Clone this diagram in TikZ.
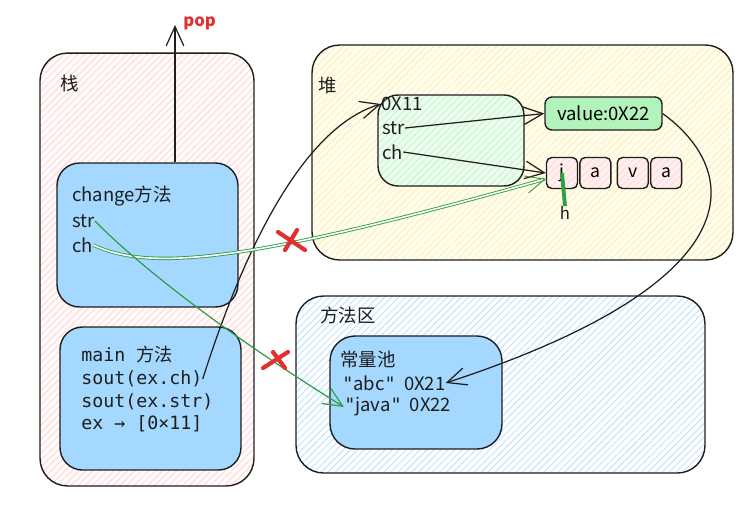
\documentclass[tikz,border=0pt]{standalone}
\usepackage{fontspec}
\setmainfont{Noto Sans CJK SC}
\setmonofont{DejaVu Sans Mono}
\newfontfamily\cjk{Noto Sans CJK SC}
\usetikzlibrary{arrows.meta,positioning,calc,patterns.meta}
\definecolor{ink}{HTML}{1E1E1E}
\definecolor{skyblue}{HTML}{A5D8FF}
\definecolor{mint}{HTML}{B2F2BB}
\definecolor{rose}{HTML}{FFC9C9}
\definecolor{sand}{HTML}{FFEC99}
\definecolor{leaf}{HTML}{2F9E44}
\definecolor{alert}{HTML}{E03131}
\newcommand{\qt}{{\ttfamily"}}

\begin{document}
\begin{tikzpicture}[x=0.02cm, y=-0.02cm, area/.style={draw=ink, line width=0.8pt, rounded corners=#1}, hatch/.style 2 args={preaction={fill=#1}, preaction={pattern={Lines[angle=45,distance=2.8pt,line width=0.45pt]}, pattern color=#2}}, lbl/.style={anchor=west, inner sep=0pt, text=ink, font=\fontsize{10.5}{12}\selectfont}, code/.style={anchor=west, inner sep=0pt, text=ink, font=\ttfamily\fontsize{10.4}{12}\selectfont}, title/.style={anchor=west, inner sep=0pt, text=ink, font=\fontsize{10.5}{12}\selectfont}, charbox/.style={area=3pt, hatch={rose!30}{rose!70}, minimum size=0.62cm, inner sep=0pt, font=\fontsize{10}{11}\selectfont}, arr/.style={draw=ink, line width=0.7pt, -{Straight Barb[length=11pt,width=10pt]}}, garr/.style={draw=leaf, line width=0.7pt, -{Straight Barb[length=11pt,width=10pt]}}, cross/.style={draw=alert, line width=2.4pt, line cap=round}]
\useasboundingbox (0,0) rectangle (754,515);
% stack
\node[area=0.55cm, hatch={rose!8}{rose!80}, minimum width=4.28cm, minimum height=8.66cm] (stk) at (147,269.5) {};
\node[title] (tstk) at (60,83) {栈};
\node[area=0.45cm, fill=skyblue, minimum width=3.62cm, minimum height=2.88cm] (chg) at (147.5,235) {};
\node[lbl] (tchg) at (72,196) {change方法};
\node[lbl] (tstr) at (72,221) {str};
\node[lbl] (tch) at (72,245) {ch};
\node[area=0.45cm, fill=skyblue, minimum width=3.62cm, minimum height=2.86cm] (mn) at (150.5,398.5) {};
\node[code] (tmain) at (81,355) {main {\cjk 方法}};
\node[code] (tsoutch) at (81,379) {sout(ex.ch)};
\node[code] (tsoutstr) at (81,402) {sout(ex.str)};
\node[code] (tex) at (81,424) {ex → [0×11]};
\coordinate (popend) at (175,25);
\node[lbl, text=alert, font=\bfseries\fontsize{9.5}{11}\selectfont] (tpop) at (183,23) {pop};
% heap
\node[area=0.55cm, hatch={sand!15}{sand!80}, minimum width=8.42cm, minimum height=4.30cm] (heap) at (522.5,152.5) {};
\node[title] (theap) at (318,86) {堆};
\node[area=0.4cm, hatch={mint!25}{mint!80}, minimum width=2.92cm, minimum height=1.82cm] (obj) at (451,140.5) {};
\node[lbl] (t011) at (381,104) {0X11};
\node[lbl] (tostr) at (382,128) {str};
\node[lbl] (toch) at (382,152) {ch};
\node[area=4pt, fill=mint, minimum width=2.34cm, minimum height=0.66cm, inner sep=0pt, font=\fontsize{10.5}{12}\selectfont] (val) at (603.5,113.5) {value:0X22};
\node[charbox] (cj) at (562,173) {j};
\node[charbox, right=0.02cm of cj] (ca1) {a};
\node[charbox, right=0.1cm of ca1] (cv) {v};
\node[charbox, right=0.02cm of cv] (ca2) {a};
\node[lbl, anchor=north, font=\fontsize{9.5}{11}\selectfont] (th) at (565,206) {h};
% method area
\node[area=0.55cm, hatch={white}{skyblue!80}, minimum width=8.18cm, minimum height=3.54cm] (marea) at (500.5,384.5) {};
\node[title] (tmarea) at (320,315) {方法区};
\node[area=0.5cm, fill=skyblue, minimum width=3.44cm, minimum height=2.26cm] (pool) at (416,392.5) {};
\node[lbl] (tpool) at (340,359) {常量池};
\node[lbl] (tabc) at (342,383) {\qt abc\qt\ \ 0X21};
\node[lbl] (tjava) at (344,407) {\qt java\qt\ \ 0X22};
% connectors
\draw[arr] (chg.north -| popend) -- (popend);
\draw[arr] (tsoutch.east) .. controls (250,230) and (310,125) .. (t011.west);
\draw[arr] (tostr.east) -- (val.west);
\draw[arr] (toch.east) -- (cj.west);
\draw[arr] (val.east) .. controls (740,170) and (760,280) .. (tabc.east);
\draw[garr, double=white, double distance=0.9pt, line width=0.5pt] (tch.east) .. controls (150,272) and (250,262) .. (cj.200);
\draw[garr] (tstr.east) .. controls (135,262) and (220,330) .. (tjava.west);
\draw[leaf, line width=2.2pt] (cj.center) -- (th.north);
% red marks
\coordinate (xa) at (291,241);
\coordinate (xb) at (276,360);
\draw[cross] ($(xa)+(-13,-9)$) -- ($(xa)+(14,9)$);
\draw[cross] ($(xa)+(6,-11)$) -- ($(xa)+(-6,9)$);
\draw[cross] ($(xb)+(-13,8)$) -- ($(xb)+(12,-8)$);
\draw[cross] ($(xb)+(-3,-8)$) -- ($(xb)+(9,8)$);
\end{tikzpicture}
\end{document}
